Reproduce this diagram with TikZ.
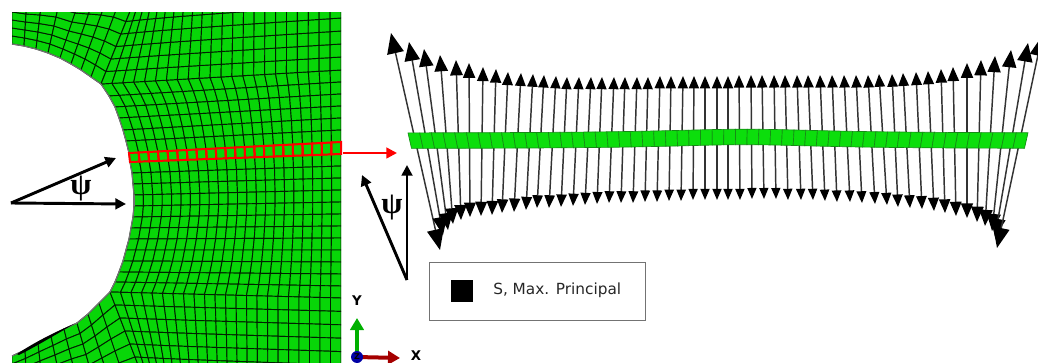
\documentclass[tikz,border=0pt]{standalone}
\usepackage{fontspec}
\setmainfont{DejaVu Sans}
\newfontfamily\psifont{Liberation Serif}
\usetikzlibrary{arrows.meta,calc,positioning}
\definecolor{meshgreen}{RGB}{8,214,8}
\definecolor{stripgreen}{RGB}{12,222,12}
\definecolor{stripedge}{RGB}{20,140,20}
\definecolor{axisgreen}{RGB}{0,176,0}
\definecolor{axisred}{RGB}{165,0,0}
\definecolor{axisblue}{RGB}{0,0,165}
\begin{document}
\begin{tikzpicture}[
    x=0.75pt, y=-0.75pt,
    meshcell/.style={fill=meshgreen, draw=black!85!meshgreen, line width=0.7pt, line join=round},
    redcell/.style={draw=red, line width=1.5pt},
    holeedge/.style={draw=black!55, line width=0.9pt},
    blackarrow/.style={draw=black, line width=2.2pt, -{Triangle[length=8pt,width=8pt]}},
    redarrow/.style={draw=red, line width=1.9pt, -{Triangle[length=8pt,width=8pt]}},
    stressline/.style={draw=black!80, line width=1.1pt},
    stripcell/.style={fill=stripgreen, draw=stripedge, line width=0.5pt},
    psilabel/.style={font=\psifont\bfseries\fontsize{23}{23}\selectfont, inner sep=0pt},
    axislabel/.style={font=\bfseries\fontsize{10}{10}\selectfont, inner sep=0pt}
]
    \useasboundingbox (0,0) rectangle (1038,363);

    % middle block of the plate mesh, rows from the hole to the right edge
    \foreach \j/\hx/\hy in {0/101/84,1/109/96,2/115/107,3/119/118,4/123/130,5/126/141,6/129/153,7/130/162,8/132/173,9/133/184,10/134/195,11/134/206,12/133/217,13/131/228,14/129/239,15/126/250,16/123/261,17/119/272,18/115/282,19/110/292}{
        \foreach \i in {0,...,22}{
            \coordinate (m-\i-\j) at ({\hx+(341-\hx)*\i/22},{\hy+(70+12*\j-\hy)*\i/22});
        }
    }
    % upper block
    \foreach \s/\bx/\by/\ox/\oy in {0/12/44/0/-8,1/24/46/0.5/-8,2/36/49/1/-8.5,3/48/53/2/-9,4/60/58/3/-9,5/71/64/3.5/-10,6/81/70/4/-11,7/91/77/4.5/-12,8/101/84/5/-12.5}{
        \foreach \k in {0,...,6}{
            \coordinate (u-\s-\k) at ({\bx+\k*\ox},{\by+\k*\oy});
        }
    }
    \foreach \i in {1,...,22}{
        \pgfmathtruncatemacro\s{8+\i}
        \foreach \k in {0,...,6}{
            \coordinate (u-\s-\k) at ({101+240*\i/22+\k*5*(1-\i/22)^4},{84-14*\i/22-\k*(12.5+0.5*\i/22)});
        }
    }
    % lower block
    \foreach \s/\bx/\by/\ox/\oy in {0/12/356/0/8,1/25/350/0.5/8.5,2/38/343/1/9,3/51/336/2/9.5,4/64/329/2.5/10,5/77/323/3/10.5,6/88/314/3.5/11,7/99/303/4/12,8/110/292/5/13}{
        \foreach \k in {0,...,6}{
            \coordinate (l-\s-\k) at ({\bx+\k*\ox},{\by+\k*\oy});
        }
    }
    \foreach \i in {1,...,22}{
        \pgfmathtruncatemacro\s{8+\i}
        \foreach \k in {0,...,6}{
            \coordinate (l-\s-\k) at ({110+231*\i/22+\k*5*(1-\i/22)^4},{292+6*\i/22+\k*(13+0.4*\i/22)});
        }
    }

    \begin{scope}
        \clip (12,13) rectangle (341,363);
        \foreach \i [evaluate=\i as \ii using int(\i+1)] in {0,...,21}{
            \foreach \j [evaluate=\j as \jj using int(\j+1)] in {0,...,18}{
                \path[meshcell] (m-\i-\j) -- (m-\ii-\j) -- (m-\ii-\jj) -- (m-\i-\jj) -- cycle;
            }
        }
        \foreach \s [evaluate=\s as \ss using int(\s+1)] in {0,...,29}{
            \foreach \k [evaluate=\k as \kk using int(\k+1)] in {0,...,5}{
                \path[meshcell] (u-\s-\k) -- (u-\ss-\k) -- (u-\ss-\kk) -- (u-\s-\kk) -- cycle;
                \path[meshcell] (l-\s-\k) -- (l-\ss-\k) -- (l-\ss-\kk) -- (l-\s-\kk) -- cycle;
            }
        }
    \end{scope}
    \foreach \s [evaluate=\s as \ss using int(\s+1)] in {0,...,7}{
        \path[holeedge] (u-\s-0) -- (u-\ss-0);
        \path[holeedge] (l-\s-0) -- (l-\ss-0);
    }
    \foreach \j [evaluate=\j as \jj using int(\j+1)] in {0,...,18}{
        \path[holeedge] (m-0-\j) -- (m-0-\jj);
    }
    \fill[black] (17,354) .. controls (35,342) and (55,332) .. (74,324) .. controls (55,335) and (35,347) .. (19,355) -- cycle;

    % selected row
    \foreach \i [evaluate=\i as \ii using int(\i+1)] in {0,...,21}{
        \path[redcell] (m-\i-6) -- (m-\ii-6) -- (m-\ii-7) -- (m-\i-7) -- cycle;
    }

    \coordinate (angleleft) at (11,203);
    \coordinate (tipflat) at (126,204);
    \coordinate (tiptilt) at (116,158);
    \draw[blackarrow] (angleleft) -- (tipflat);
    \draw[blackarrow] (angleleft) -- (tiptilt);
    \node[psilabel] (psileft) at (81,189) {ψ};

    \coordinate (redstart) at (343,153);
    \coordinate (redend) at (397,153);
    \draw[redarrow] (redstart) -- (redend);

    \coordinate (angleright) at (407,280);
    \coordinate (tipup) at (407,165);
    \coordinate (tipslant) at (362,175);
    \draw[blackarrow] (angleright) -- (tipup);
    \draw[blackarrow] (angleright) -- (tipslant);
    \node[psilabel] (psiright) at (392,208) {ψ};

    % stress arrows, drawn under the strip
    \foreach \i/\ua/\ub/\da/\db in {0/391/33/440/250,1/409/42/443/235,2/424/49/448/230,3/440/55/453/224,4/456/60/461/220,5/469/63/470/217,6/483/67/481/216,7/496/69/492/215,8/508/72/502/213,9/521/73/514/212,10/533/74/526/210,11/544/75/537/208,12/556/76/549/208,13/567/77/561/207,14/579/77/573/206,15/591/77/585/205,16/602/77/597/204,17/614/77/609/203,18/625/77/621/203,19/637/77/633/203,20/648/77/645/202,21/660/76/657/202,22/671/76/669/201,23/683/76/681/201,24/694/76/693/200,25/705/76/705/200,26/717/76/717/200,27/728/76/728/200,28/739/75/740/200,29/751/75/752/199,30/762/75/764/199,31/774/75/776/199,32/785/75/788/200,33/797/75/801/200,34/808/75/813/200,35/820/75/825/201,36/832/75/837/202,37/844/75/850/202,38/856/75/862/203,39/868/75/875/204,40/879/74/887/205,41/892/74/898/207,42/903/73/910/208,43/916/72/922/209,44/928/71/934/211,45/941/69/945/213,46/953/67/956/216,47/967/63/967/218,48/981/60/977/222,49/995/56/985/226,50/1011/50/992/231,51/1028/43/995/237,52/1042/36/997/248}{
        \coordinate (up-\i) at (\ua,\ub);
        \coordinate (dn-\i) at (\da,\db);
        \pgfmathsetmacro\uplen{0.75*0.19*(141-\ub)}
        \pgfmathsetmacro\upwid{0.75*0.155*(141-\ub)}
        \pgfmathsetmacro\dnlen{0.75*0.19*(\db-141)}
        \pgfmathsetmacro\dnwid{0.75*0.155*(\db-141)}
        \draw[stressline, {Triangle[length=\dnlen pt,width=\dnwid pt,color=black]}-{Triangle[length=\uplen pt,width=\upwid pt,color=black]}] (dn-\i) -- (up-\i);
    }

    % strip of elements
    \foreach \c in {0,...,52}{
        \pgfmathsetmacro\xa{408+\c*11.698}
        \pgfmathsetmacro\xb{408+(\c+1)*11.698}
        \pgfmathsetmacro\ta{(\xa-745)/100}
        \pgfmathsetmacro\tb{(\xb-745)/100}
        \pgfmathsetmacro\ya{133.2-4/(1+\ta*\ta)}
        \pgfmathsetmacro\yb{133.2-4/(1+\tb*\tb)}
        \pgfmathsetmacro\sa{3.5*(1-2*(\xa-408)/620)}
        \pgfmathsetmacro\sb{3.5*(1-2*(\xb-408)/620)}
        \path[stripcell] (\xa,\ya) -- (\xb,\yb) -- ({\xb+\sb},{\yb+15.5}) -- ({\xa+\sa},{\ya+15.5}) -- cycle;
    }

    % legend
    \node[draw=black!55, line width=0.9pt, minimum width=162pt, minimum height=43.5pt, anchor=north west, inner sep=0pt] (legendbox) at (429,262) {};
    \node[fill=black, minimum size=16.5pt, inner sep=0pt] (legendmark) at (462,291) {};
    \node[anchor=west, inner sep=0pt, font=\fontsize{11.5}{11.5}\selectfont, text=black!85] (legendtext) at (493,290) {S, Max. Principal};

    % triad
    \coordinate (origin) at (357,357);
    \coordinate (yend) at (357,318);
    \coordinate (xend) at (400,358);
    \draw[axisgreen, line width=2.6pt, -{Triangle[length=9pt,width=10pt]}] (origin) -- (yend);
    \draw[axisred, line width=3pt, -{Triangle[length=9pt,width=10pt]}] (origin) -- (xend);
    \node[circle, fill=axisblue, minimum size=9pt, inner sep=0pt, font=\bfseries\fontsize{6}{6}\selectfont] (zmark) at (origin) {Z};
    \node[axislabel] (ylabel) at (357,301) {Y};
    \node[axislabel] (xlabel) at (416,356) {X};
\end{tikzpicture}
\end{document}
